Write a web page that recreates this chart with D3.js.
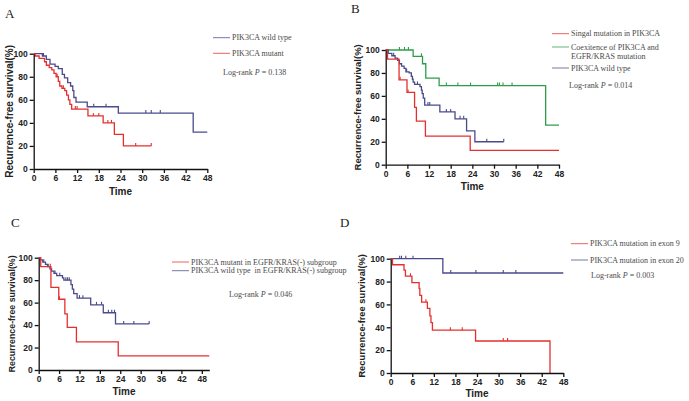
<!DOCTYPE html>
<html>
<head>
<meta charset="utf-8">
<script src="https://cdn.jsdelivr.net/npm/d3@7.9.0/dist/d3.min.js"></script>
<style>
  body { margin: 0; background: #fff; }
  svg { display: block; }
  .axis path, .axis line { stroke: #111; stroke-width: 1.3; }
  .axis text { font-family: "Liberation Sans", Arial, sans-serif; font-weight: bold; font-size: 8.5px; fill: #222; }
  .lab { font-family: "Liberation Sans", Arial, sans-serif; font-weight: bold; fill: #222; }
  .leg { font-family: "Liberation Serif", "Times New Roman", serif; font-size: 8px; fill: #4a4a4a; white-space: pre; }
  .letter { font-family: "Liberation Serif", "Times New Roman", serif; font-size: 13px; fill: #222; }
</style>
</head>
<body>
<svg id="chart" width="689" height="401"></svg>
<script>
// step data: times (months) and survival (%)
const aWildT = [0, 2.4, 3.5, 4.5, 5.9, 6.8, 7.9, 8.5, 9.4, 10.2, 10.8, 11.1, 11.7, 14.8, 23.4, 44.1, 48];
const aWildS = [100, 98, 95, 91, 89, 87, 82, 79, 75, 72, 68, 62, 58, 54, 48.5, 32, 32];
const aWildCens = [2.7, 16.6, 20, 31, 32.5, 35];

const aMutT = [0, 0.4, 1.5, 3.0, 3.5, 4.3, 5.0, 5.6, 6.2, 6.8, 7.2, 7.8, 8.6, 9.1, 9.6, 10.0, 10.5, 15.0, 19.2, 22.3, 24.8, 32.5];
const aMutS = [100, 98, 96, 93, 90, 88, 86, 83, 80, 76, 72, 70, 68, 64, 60, 56, 52, 46, 40, 30, 20, 20];
const aMutCens = [6.5, 8.2, 11.5, 12, 16.5, 18, 20.5, 21.5, 28.2, 32.5];

const bSingT = [0, 0.5, 3.7, 5.9, 8.0, 8.5, 11.0, 23.4, 48];
const bSingS = [100, 92, 74, 63, 50, 38, 25, 12.5, 12.5];
const bSingCens = [4.0, 6.2];

const bCoT = [0, 7.6, 10.2, 11.1, 14.8, 44.3, 48];
const bCoS = [100, 94.5, 88, 75.5, 69, 34.5, 34.5];
const bCoCens = [3.8, 5.2, 6.3, 9.9, 16.8, 20, 23.5, 31, 31.5, 32.5, 35];

const bWildT = [0, 0.7, 1.7, 2.6, 3.3, 3.8, 4.4, 5.1, 5.6, 6.5, 7.1, 7.4, 7.6, 8.0, 9.5, 9.9, 10.1, 10.4, 10.8, 15.0, 19.2, 22.4, 24.7, 32.7];
const bWildS = [100, 97, 95, 93, 91, 88, 86, 84, 81, 80, 77, 74.5, 72, 70, 68, 65, 62, 58, 52, 46, 40, 29.5, 20, 20];
const bWildCens = [2.2, 5.8, 8.8, 11.7, 12.2, 16.8, 18, 20.6, 21.6, 28, 32.7];

const cMutT = [0, 0.6, 3.6, 5.9, 7.7, 8.4, 11.1, 23.4, 50.2];
const cMutS = [100, 92, 73.6, 63, 50, 38, 25, 12.5, 12.5];
const cMutCens = [3.4, 6.1];

const cWildT = [0, 0.5, 1.2, 2.0, 2.6, 3.3, 3.8, 4.5, 5.3, 7.0, 7.4, 9.5, 9.9, 10.3, 11.3, 15.3, 19.0, 22.6, 32.5];
const cWildS = [100, 98, 96, 94, 92, 90, 88, 86, 84, 82, 80, 76, 72, 68, 64, 58, 51, 41, 41];
const cWildCens = [1.5, 2.8, 4.8, 6.2, 8.0, 8.5, 9.0, 12.0, 13.0, 17.0, 18.5, 20.5, 21.5, 22.3, 25.0, 28.0, 32.5];

const dEx9T = [0, 0.5, 3.7, 4.1, 5.9, 7.9, 8.1, 8.6, 10.2, 10.9, 11.2, 11.6, 23.6, 44.3];
const dEx9S = [100, 94.7, 90, 84.7, 79, 74, 68, 62, 56.5, 50, 44, 37.5, 28, 0];
const dEx9Cens = [5.5, 9.8, 16.6, 19.9, 31.3, 32.5];

const dEx20T = [0, 14.5, 48];
const dEx20S = [100, 87.5, 87.5];
const dEx20Cens = [2.5, 3.0, 4.2, 6.2, 16.7, 23.7, 31.3, 34.8];

const xTicks = [0, 6, 12, 18, 24, 30, 36, 42, 48];
const yTicks = [0, 20, 40, 60, 80, 100];
const pValues = ["0.138", "0.014", "0.046", "0.003"];

const RED = "#e3302e", BLUE = "#4a4a8c", GREEN = "#2e9d4a";

const panels = [
  { letter: "A", lx: 5, ly: 18, x0: 33.7, x1: 207.3, y0: 53.7, y1: 169, xMax: 48,
    ylabX: 9, ylabSize: 10, timeY: 195,
    series: [[aWildT, aWildS, aWildCens, BLUE], [aMutT, aMutS, aMutCens, RED]],
    legX: 213, legend: [["PIK3CA wild type", BLUE, 37.7], ["PIK3CA mutant", RED, 53.3]],
    rankX: 223, rankY: 71.7 },
  { letter: "B", lx: 351, ly: 13, x0: 385.7, x1: 559, y0: 50, y1: 164.7, xMax: 48,
    ylabX: 357, ylabSize: 9.5, timeY: 190,
    series: [[bCoT, bCoS, bCoCens, GREEN], [bWildT, bWildS, bWildCens, BLUE], [bSingT, bSingS, bSingCens, RED]],
    legX: 552, legend: [["Singal mutation in PIK3CA", RED, 33.7], ["Coexitence of PIK3CA and", GREEN, 47, "EGFR/KRAS mutation"], ["PIK3CA wild type", BLUE, 68]],
    rankX: 569, rankY: 84.7 },
  { letter: "C", lx: 11, ly: 227, x0: 38.7, x1: 209.3, y0: 257.7, y1: 370, xMax: 50.2,
    ylabX: 12, ylabSize: 8.8, timeY: 395,
    series: [[cWildT, cWildS, cWildCens, BLUE], [cMutT, cMutS, cMutCens, RED]],
    legX: 172, legend: [["PIK3CA mutant in EGFR/KRAS(-) subgroup", RED, 262], ["PIK3CA wild type  in EGFR/KRAS(-) subgroup", BLUE, 270.7]],
    rankX: 229, rankY: 293.7 },
  { letter: "D", lx: 340, ly: 227, x0: 390.7, x1: 563.3, y0: 258.7, y1: 373, xMax: 48,
    ylabX: 362, ylabSize: 9.3, timeY: 397,
    series: [[dEx20T, dEx20S, dEx20Cens, BLUE], [dEx9T, dEx9S, dEx9Cens, RED]],
    legX: 571, legend: [["PIK3CA mutation in exon 9", RED, 243.7], ["PIK3CA mutation in exon 20", BLUE, 260]],
    rankX: 591, rankY: 275.3 }
];

const svg = d3.select("#chart");

panels.forEach((p, pi) => {
  const g = svg.append("g");
  const x = d3.scaleLinear().domain([0, p.xMax]).range([p.x0, p.x1]);
  const y = d3.scaleLinear().domain([0, 100]).range([p.y1, p.y0]);

  g.append("text").attr("class", "letter").attr("x", p.lx).attr("y", p.ly).text(p.letter);

  // curves
  const line = d3.line().x(d => x(d[0])).y(d => y(d[1])).curve(d3.curveStepAfter);
  p.series.forEach(([T, S, C, color]) => {
    g.append("path")
      .attr("d", line(T.map((t, i) => [t, S[i]])))
      .attr("fill", "none").attr("stroke", color).attr("stroke-width", 1.3);
    C.forEach(t => {
      const s = S[Math.max(0, d3.bisectRight(T, t) - 1)];
      g.append("line")
        .attr("x1", x(t)).attr("x2", x(t))
        .attr("y1", y(s) - 3).attr("y2", y(s))
        .attr("stroke", color).attr("stroke-width", 1.1);
    });
  });

  // axes
  g.append("g").attr("class", "axis").attr("transform", `translate(0,${p.y1})`)
    .call(d3.axisBottom(x).tickValues(xTicks).tickSize(4).tickPadding(2).tickSizeOuter(0));
  g.append("g").attr("class", "axis").attr("transform", `translate(${p.x0},0)`)
    .call(d3.axisLeft(y).tickValues(yTicks).tickSize(4).tickPadding(2).tickSizeOuter(0));

  g.append("text").attr("class", "lab")
    .attr("x", (p.x0 + p.x1) / 2).attr("y", p.timeY)
    .attr("text-anchor", "middle").style("font-size", "10px").text("Time");
  g.append("text").attr("class", "lab")
    .attr("transform", `translate(${p.ylabX},${(p.y0 + p.y1) / 2}) rotate(-90)`)
    .attr("text-anchor", "middle").attr("dominant-baseline", "central")
    .style("font-size", p.ylabSize + "px").text("Recurrence-free survival(%)");

  // legend
  p.legend.forEach(([label, color, ly, extra]) => {
    g.append("line").attr("x1", p.legX).attr("x2", p.legX + 17)
      .attr("y1", ly).attr("y2", ly)
      .attr("stroke", color).attr("stroke-width", 1).attr("opacity", 0.75);
    g.append("text").attr("class", "leg").attr("x", p.legX + 19).attr("y", ly)
      .attr("dominant-baseline", "central").text(label);
    if (extra) {
      g.append("text").attr("class", "leg").attr("x", p.legX + 19).attr("y", ly + 9.3)
        .attr("dominant-baseline", "central").text(extra);
    }
  });
  const rank = g.append("text").attr("class", "leg").attr("x", p.rankX).attr("y", p.rankY)
    .attr("dominant-baseline", "central");
  rank.append("tspan").text("Log-rank ");
  rank.append("tspan").style("font-style", "italic").text("P");
  rank.append("tspan").text(" = " + pValues[pi]);
});
</script>
</body>
</html>
